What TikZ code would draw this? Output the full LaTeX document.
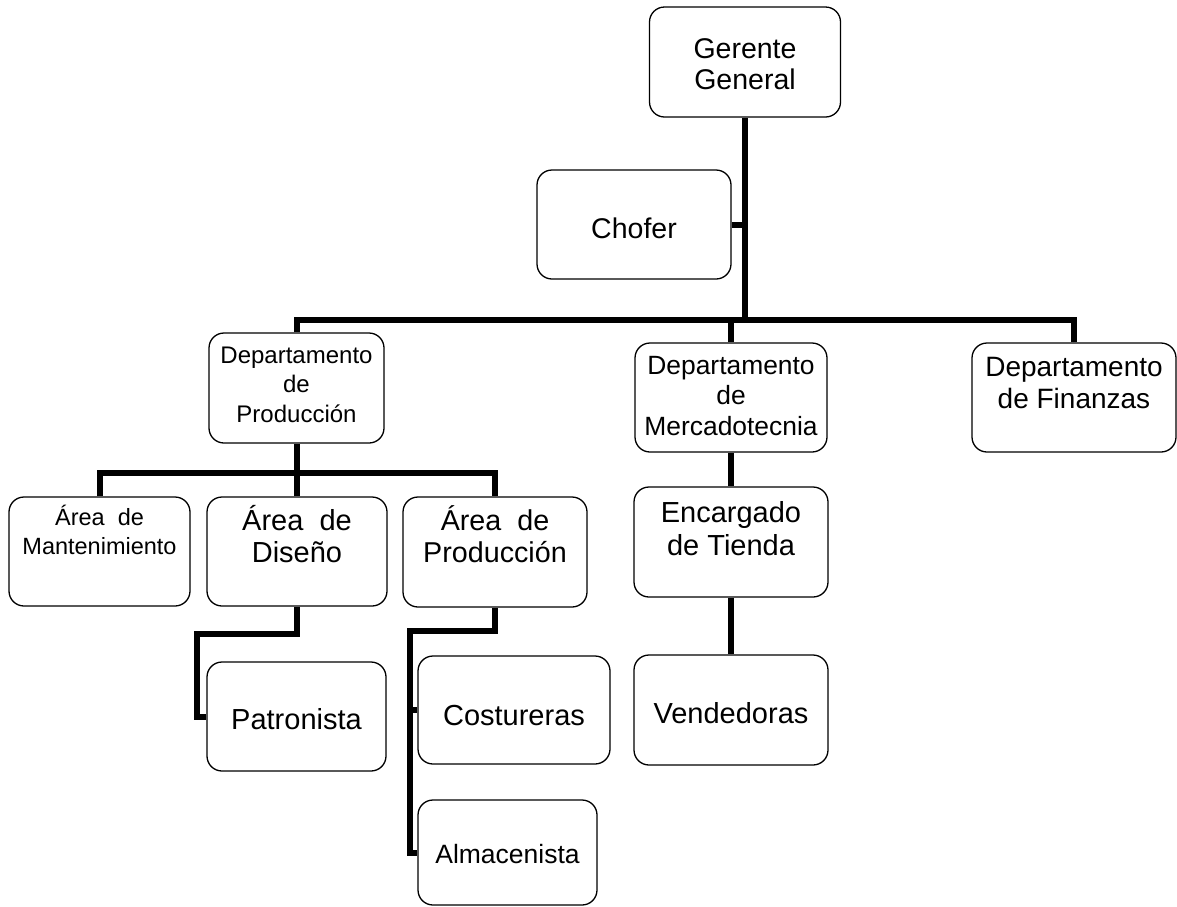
\documentclass[tikz,border=0pt]{standalone}
\usepackage{fontspec}
\setmainfont{Liberation Sans}
\usetikzlibrary{calc}
% centred stack of lines whose baseline is that of the first line
\newcommand{\stackedlines}[1]{\begin{tabular}[t]{@{}c@{}}#1\end{tabular}}
\begin{document}
\begin{tikzpicture}[x=1pt,y=-1pt,
  box/.style={draw, line width=1.3pt, rounded corners=15pt, fill=white,
              inner sep=0pt, anchor=base},
  link/.style={line width=6pt}]
\useasboundingbox (0,0) rectangle (1177,906);

% --- boxes (anchored at the baseline of their first text line) ---
\node[box, minimum width=191pt, text height=51pt, text depth=59pt,
      font=\fontsize{28.5}{31.7}\selectfont] (gg) at (745,58) {\stackedlines{Gerente\\General}};
\node[box, minimum width=194pt, text height=68pt, text depth=41pt,
      font=\fontsize{28.5}{32}\selectfont] (ch) at (634,238) {\stackedlines{Chofer}};

\node[box, minimum width=175pt, text height=30pt, text depth=80pt,
      font=\fontsize{24}{29.6}\selectfont] (dp) at (296.5,363) {\stackedlines{Departamento\\de\\Producción}};
\node[box, minimum width=192pt, text height=31pt, text depth=78pt,
      font=\fontsize{26.4}{30.5}\selectfont] (merc) at (731,374) {\stackedlines{Departamento\\de\\Mercadotecnia}};
\node[box, minimum width=204pt, text height=33pt, text depth=76pt,
      font=\fontsize{28}{32}\selectfont] (fin) at (1074,376) {\stackedlines{Departamento\\de Finanzas}};

\node[box, minimum width=181pt, text height=28pt, text depth=81pt,
      font=\fontsize{23.5}{29}\selectfont] (man) at (99.5,525) {\stackedlines{Área\ \ de\\Mantenimiento}};
\node[box, minimum width=180pt, text height=33pt, text depth=76pt,
      font=\fontsize{29}{32.7}\selectfont] (dis) at (297,530) {\stackedlines{Área\ \ de\\Diseño}};
\node[box, minimum width=184pt, text height=33pt, text depth=77pt,
      font=\fontsize{28.7}{32.7}\selectfont] (ap) at (495,530) {\stackedlines{Área\ \ de\\Producción}};
\node[box, minimum width=194pt, text height=35pt, text depth=75pt,
      font=\fontsize{29}{33}\selectfont] (enc) at (731,522) {\stackedlines{Encargado\\de Tienda}};

\node[box, minimum width=179pt, text height=67pt, text depth=42pt,
      font=\fontsize{29}{33}\selectfont] (pat) at (296.5,729) {\stackedlines{Patronista}};
\node[box, minimum width=192pt, text height=69pt, text depth=39pt,
      font=\fontsize{29}{33}\selectfont] (cos) at (514,725) {\stackedlines{Costureras}};
\node[box, minimum width=179pt, text height=63pt, text depth=42pt,
      font=\fontsize{26.5}{30}\selectfont] (alm) at (507.5,863) {\stackedlines{Almacenista}};
\node[box, minimum width=194pt, text height=68pt, text depth=42pt,
      font=\fontsize{29}{33}\selectfont] (ven) at (731,723) {\stackedlines{Vendedoras}};

% --- connectors ---
\coordinate (bar) at (746,320);
\coordinate (sub) at (297,473);
\coordinate (dj) at (197,634);
\coordinate (pj) at (410,631);

\draw[link] (gg.south) -- (gg.south |- bar);
\draw[link] (ch.east) -- (ch.east -| gg.south);
\draw[link] (dp.north) -- (dp.north |- bar) -- (fin.north |- bar) -- (fin.north);
\draw[link] (merc.north) -- (merc.north |- bar);

\draw[link] (dp.south) -- (dp.south |- sub);
\draw[link] (man.north) -- (man.north |- sub) -- (ap.north |- sub) -- (ap.north);
\draw[link] (dis.north) -- (dis.north |- sub);

\draw[link] (dis.south) |- (dj) -- (dj |- pat.west) -- (pat.west);
\draw[link] (ap.south) |- (pj) -- (pj |- alm.west) -- (alm.west);
\draw[link] (cos.west -| pj) -- (cos.west);

\draw[link] (merc.south) -- (enc.north);
\draw[link] (enc.south) -- (ven.north);
\end{tikzpicture}
\end{document}
